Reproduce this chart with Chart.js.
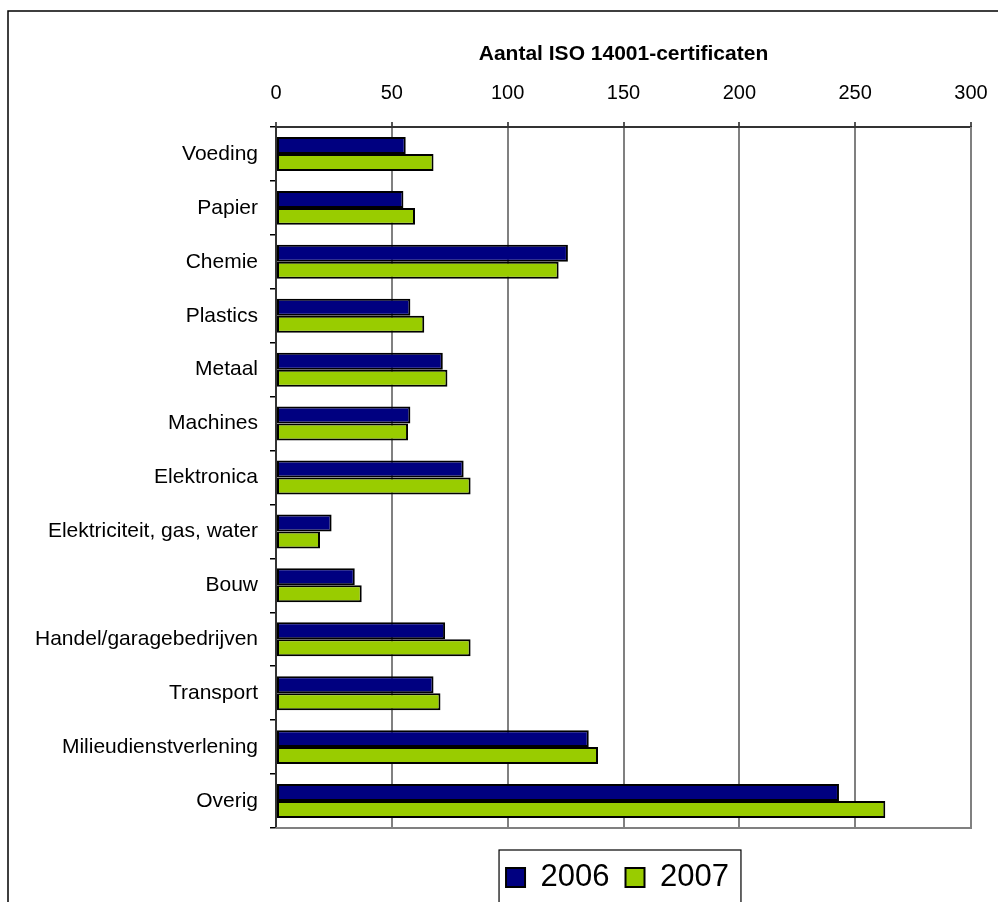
<!DOCTYPE html>
<html>
<head>
<meta charset="utf-8">
<script src="https://cdn.jsdelivr.net/npm/chart.js@4"></script>
<style>
  html, body { margin: 0; padding: 0; background: #fff; }
  #wrap { width: 998px; height: 902px; }
</style>
</head>
<body>
<div id="wrap"><canvas id="c" width="998" height="902"></canvas></div>
<script>
const categories = ['Voeding', 'Papier', 'Chemie', 'Plastics', 'Metaal', 'Machines', 'Elektronica',
  'Elektriciteit, gas, water', 'Bouw', 'Handel/garagebedrijven', 'Transport', 'Milieudienstverlening', 'Overig'];
const values2006 = [56, 55, 126, 58, 72, 58, 81, 24, 34, 73, 68, 135, 243];
const values2007 = [68, 60, 122, 64, 74, 57, 84, 19, 37, 84, 71, 139, 263];
const seriesNames = ['2006', '2007'];
const axisTitle = 'Aantal ISO 14001-certificaten';
const xMin = 0, xMax = 300, xStep = 50;

const FONT = "'Liberation Sans', Arial, sans-serif";

const decorPlugin = {
  id: 'decor',
  beforeDraw(chart) {
    const ctx = chart.ctx;
    ctx.save();
    ctx.fillStyle = '#fff';
    ctx.fillRect(0, 0, chart.width, chart.height);
    ctx.strokeStyle = '#000';
    ctx.lineWidth = 1.5;
    ctx.beginPath();
    ctx.moveTo(chart.width + 5, 11);
    ctx.lineTo(8, 11);
    ctx.lineTo(8, chart.height + 5);
    ctx.stroke();
    ctx.restore();
  },
  afterLayout(chart) {
    const lg = chart.legend;
    const ca = chart.chartArea;
    if (lg) {
      lg.left = ca.left - 6;
      lg.right = ca.right - 6;
      lg.top += 18;
      lg.bottom += 18;
    }
  },
  afterDatasetsDraw(chart) {
    const ctx = chart.ctx;
    const ca = chart.chartArea;
    ctx.save();
    ctx.strokeStyle = '#808080';
    ctx.lineWidth = 2;
    ctx.beginPath();
    ctx.moveTo(ca.left, ca.bottom);
    ctx.lineTo(ca.right, ca.bottom);
    ctx.lineTo(ca.right, ca.top);
    ctx.stroke();
    ctx.restore();
  },
  afterDraw(chart) {
    const lg = chart.legend;
    if (!lg || !lg.legendHitBoxes || !lg.legendHitBoxes.length) return;
    const hb = lg.legendHitBoxes;
    const first = hb[0], last = hb[hb.length - 1];
    const ctx = chart.ctx;
    ctx.save();
    ctx.strokeStyle = '#000';
    ctx.lineWidth = 1.2;
    const x0 = first.left - 7;
    const x1 = last.left + last.width + 12;
    const y0 = first.top - 12;
    const y1 = first.top + first.height + 14;
    ctx.strokeRect(x0, y0, x1 - x0, y1 - y0);
    ctx.restore();
  }
};

new Chart(document.getElementById('c'), {
  type: 'bar',
  data: {
    labels: categories,
    datasets: [
      { label: seriesNames[0], data: values2006, backgroundColor: '#000080', borderColor: '#000', borderWidth: 2, borderSkipped: false },
      { label: seriesNames[1], data: values2007, backgroundColor: '#99CC00', borderColor: '#000', borderWidth: 2, borderSkipped: false }
    ]
  },
  options: {
    indexAxis: 'y',
    responsive: false,
    animation: false,
    devicePixelRatio: 1,
    layout: { padding: { top: 42, left: 10, right: 27, bottom: 17 } },
    datasets: { bar: { categoryPercentage: 0.63, barPercentage: 1.0 } },
    plugins: {
      tooltip: { enabled: false },
      legend: {
        position: 'bottom',
        labels: {
          font: { family: FONT, size: 31 },
          color: '#000',
          boxWidth: 19,
          boxHeight: 19,
          padding: 16
        }
      }
    },
    scales: {
      x: {
        position: 'top',
        min: xMin,
        max: xMax,
        ticks: {
          stepSize: xStep,
          color: '#000',
          font: { family: FONT, size: 20 },
          padding: 17,
          maxRotation: 0
        },
        grid: { color: '#808080', lineWidth: 2, drawTicks: true, tickLength: 5, tickColor: '#555' },
        border: { display: true, color: '#333', width: 2 },
        title: {
          display: true,
          text: axisTitle,
          color: '#000',
          font: { family: FONT, size: 21, weight: 'bold' },
          padding: { top: 0, bottom: 0 }
        },
        afterFit(scale) {
          scale.height = 85;
          scale.paddingRight = 0;
          scale.paddingLeft = 0;
        }
      },
      y: {
        ticks: {
          color: '#000',
          font: { family: FONT, size: 21 },
          padding: 12,
          autoSkip: false
        },
        grid: { drawOnChartArea: false, drawTicks: true, tickLength: 6, color: '#000', lineWidth: 1.5, offset: true },
        border: { display: true, color: '#333', width: 2 },
        afterFit(scale) {
          scale.width = 266;
          scale.paddingTop = 0;
          scale.paddingBottom = 0;
        }
      }
    }
  },
  plugins: [decorPlugin]
});
</script>
</body>
</html>
